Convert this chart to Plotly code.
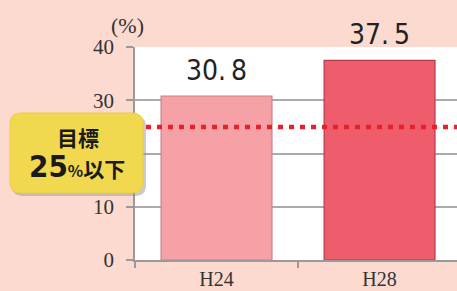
import plotly.graph_objects as go

categories = ["H24", "H28"]
values = [30.8, 37.5]
value_labels = ["30.\u20098", "37.\u20095"]
target = 25
bar_colors = ["#f6a1a6", "#ef5c6b"]
bar_edges = ["#c98088", "#b53a4c"]
y_ticks = [0, 10, 20, 30, 40]

W, H = 457, 291
ML, MR, MT, MB = 135, 0, 47, 31
PW, PH = W - ML - MR, H - MT - MB

COND = "DejaVu Sans Condensed, Liberation Sans Narrow, Roboto, sans-serif"


def px(x):
    return (x - ML) / PW


def py(y):
    return (H - MB - y) / PH


fig = go.Figure()
fig.add_trace(go.Bar(
    x=categories, y=values, width=0.68,
    marker=dict(color=bar_colors, line=dict(color=bar_edges, width=1.2)),
    showlegend=False, hoverinfo="skip",
))

for c, v, t in zip(categories, values, value_labels):
    fig.add_annotation(x=c, y=v, text=t, showarrow=False, yanchor="bottom", yshift=7,
                       font=dict(family=COND, size=28, color="#222"))

# target line
fig.add_shape(type="line", xref="paper", yref="y", x0=0, x1=1, y0=target, y1=target,
              line=dict(color="#e8202a", width=4.5, dash="5px,6px"))


def rounded(x0, y0, x1, y1, r):
    X0, X1 = px(x0), px(x1)
    Y0, Y1 = py(y1), py(y0)
    rx, ry = r / PW, r / PH
    return (f"M {X0+rx},{Y1} L {X1-rx},{Y1} Q {X1},{Y1} {X1},{Y1-ry} "
            f"L {X1},{Y0+ry} Q {X1},{Y0} {X1-rx},{Y0} L {X0+rx},{Y0} "
            f"Q {X0},{Y0} {X0},{Y0+ry} L {X0},{Y1-ry} Q {X0},{Y1} {X0+rx},{Y1} Z")


fig.add_shape(type="path", xref="paper", yref="paper", path=rounded(12, 116, 146, 196, 11),
              fillcolor="rgba(140,140,140,0.45)", line=dict(width=0))
fig.add_shape(type="path", xref="paper", yref="paper", path=rounded(10, 113, 143, 193, 11),
              fillcolor="#f2d84f", line=dict(color="#e9cf45", width=1))

fig.add_annotation(xref="paper", yref="paper", x=px(78), y=py(137), xanchor="center", yanchor="middle",
                   text="<b>目標</b>",
                   showarrow=False, font=dict(family="Noto Sans CJK JP", size=21, color="#1a1a1a"))
fig.add_annotation(xref="paper", yref="paper", x=px(77), y=py(166), xanchor="center", yanchor="middle",
                   text="<b><span style='font-family:\"DejaVu Sans Condensed\",\"Liberation Sans Narrow\",sans-serif;font-size:31px'>25</span>"
                        "<span style='font-size:16px'>%</span>以下</b>",
                   showarrow=False, font=dict(family="Noto Sans CJK JP", size=21, color="#1a1a1a"))

fig.add_annotation(xref="paper", yref="paper", x=px(127), y=py(26), xanchor="center", yanchor="middle",
                   text="(%)",
                   showarrow=False, font=dict(family="Liberation Serif, serif", size=22, color="#333"))

fig.update_layout(
    width=W, height=H, margin=dict(l=ML, r=MR, t=MT, b=MB, pad=0),
    paper_bgcolor="#fcdad0", plot_bgcolor="#ffffff",
    font=dict(family="Liberation Serif, serif", size=20, color="#333"),
    bargap=0.32,
)
fig.update_xaxes(range=[-0.5, 1.475], showline=True, linecolor="#9a9a9a", linewidth=1.5,
                 ticks="outside", ticklen=6, tickcolor="#9a9a9a", tickwidth=1.5,
                 tickson="boundaries", showgrid=False, fixedrange=True,
                 tickfont=dict(family="Liberation Serif, serif", size=20, color="#333"))
fig.update_yaxes(range=[0, 40], tickvals=y_ticks, showline=True, linecolor="#9a9a9a", linewidth=1.5,
                 ticks="outside", ticklen=7, tickcolor="#9a9a9a", tickwidth=1.5,
                 showgrid=True, gridcolor="#ababab", gridwidth=1.5, zeroline=False,
                 ticklabelstandoff=8,
                 tickfont=dict(family="Liberation Serif, serif", size=21, color="#333"))

fig.write_html("out.html", config={"displayModeBar": False},
               post_script="document.body.style.margin='0';document.body.style.overflow='hidden';")
